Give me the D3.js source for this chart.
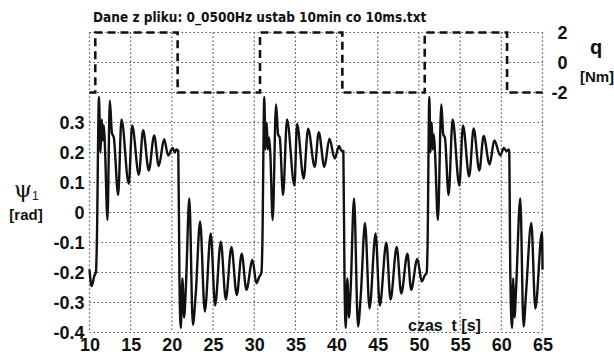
<!DOCTYPE html>
<html>
<head>
<meta charset="utf-8">
<script src="https://cdn.jsdelivr.net/npm/d3@7"></script>
<style>
  html, body { margin: 0; padding: 0; background: #fff; }
  svg { display: block; }
  .tick text { font-family: 'Liberation Sans', Arial, sans-serif; font-weight: bold; fill: #111; }
</style>
</head>
<body>
<div id="chart"></div>
<script>
// --- data ---
const xTicks = [10, 15, 20, 25, 30, 35, 40, 45, 50, 55, 60, 65];
const psiTicks = [-0.4, -0.3, -0.2, -0.1, 0, 0.1, 0.2, 0.3];
const qTicks = [-2, 0, 2];

// torque q [Nm], square wave (level holds from each switch time)
const qSwitchT = [10, 10.7, 20.7, 30.7, 40.7, 50.7, 60.7, 65];
const qLevel   = [-2, 2, -2, 2, -2, 2, -2, -2];

// psi_1 [rad] samples (peaks, troughs, transitions)
const psiT0 = [10, 10.25, 10.6, 10.78];
const psiV0 = [-0.19, -0.245, -0.21, -0.2];

const psiT1 = [10.88, 11.15, 11.33, 11.5, 11.62, 11.75, 11.9, 12.18, 12.47, 12.72, 12.95, 13.48, 13.88, 14.77, 15.18, 15.99, 16.51, 17.2, 17.85, 18.41, 19.06, 19.55, 20.1, 20.35, 20.55, 20.78];
const psiV1 = [-0.12, 0.385, 0.2, 0.31, 0.24, 0.29, 0.2, -0.025, 0.373, 0.265, 0.25, 0.058, 0.31, 0.096, 0.29, 0.126, 0.274, 0.14, 0.257, 0.155, 0.244, 0.19, 0.215, 0.2, 0.21, 0.205];

const psiT2 = [20.92, 21.08, 21.28, 21.48, 21.7, 22.12, 22.55, 22.9, 23.43, 24.0, 24.72, 25.25, 25.94, 26.55, 27.23, 27.88, 28.48, 29.05, 29.78, 30.27, 30.6, 30.88];
const psiV2 = [-0.22, -0.385, -0.22, -0.35, -0.25, 0.047, -0.374, -0.27, -0.03, -0.33, -0.07, -0.31, -0.097, -0.29, -0.115, -0.275, -0.137, -0.258, -0.158, -0.236, -0.215, -0.2];

const psiT3 = [30.98, 31.22, 31.36, 31.52, 31.64, 31.8, 31.95, 32.24, 32.65, 32.9, 33.1, 33.5, 33.98, 34.88, 35.2, 36.0, 36.54, 37.35, 37.83, 38.52, 39.13, 39.77, 40.3, 40.6, 40.82];
const psiV3 = [-0.12, 0.385, 0.21, 0.3, 0.21, 0.25, 0.2, -0.025, 0.36, 0.26, 0.25, 0.058, 0.31, 0.09, 0.295, 0.113, 0.279, 0.152, 0.268, 0.152, 0.246, 0.18, 0.222, 0.205, 0.205];

const psiT4 = [40.96, 41.1, 41.3, 41.5, 41.7, 42.12, 42.6, 42.95, 43.45, 44.0, 44.73, 45.25, 46.04, 46.55, 47.3, 47.85, 48.6, 49.05, 49.8, 50.35, 50.7, 50.94];
const psiV4 = [-0.22, -0.385, -0.22, -0.35, -0.26, 0.047, -0.38, -0.27, -0.035, -0.32, -0.07, -0.31, -0.1, -0.29, -0.115, -0.27, -0.137, -0.258, -0.155, -0.23, -0.21, -0.2];

const psiT5 = [51.04, 51.26, 51.4, 51.55, 51.66, 51.8, 51.95, 52.3, 52.72, 52.95, 53.15, 53.6, 54.09, 54.9, 55.35, 56.1, 56.64, 57.33, 57.85, 58.58, 59.15, 59.88, 60.3, 60.6, 60.95];
const psiV5 = [-0.12, 0.385, 0.2, 0.3, 0.21, 0.26, 0.2, -0.025, 0.36, 0.26, 0.25, 0.058, 0.31, 0.09, 0.29, 0.12, 0.28, 0.14, 0.255, 0.16, 0.24, 0.19, 0.215, 0.205, 0.21];

const psiT6 = [61.1, 61.3, 61.45, 61.6, 61.8, 62.3, 62.7, 63.0, 63.64, 64.13, 64.94, 65];
const psiV6 = [-0.22, -0.385, -0.22, -0.35, -0.25, 0.047, -0.38, -0.27, -0.035, -0.32, -0.065, -0.19];

const psiT = [].concat(psiT0, psiT1, psiT2, psiT3, psiT4, psiT5, psiT6);
const psiV = [].concat(psiV0, psiV1, psiV2, psiV3, psiV4, psiV5, psiV6);

const titleText = 'Dane z pliku: 0_0500Hz ustab 10min co 10ms.txt';

// --- drawing ---
const width = 614, height = 358;
const plot = { left: 89.5, right: 542.5, qTop: 32.5, qBottom: 92.5, psiBottom: 332.5 };

const svg = d3.select('#chart').append('svg')
  .attr('width', width)
  .attr('height', height);

const x = d3.scaleLinear().domain([10, 65]).range([plot.left, plot.right]);
const yQ = d3.scaleLinear().domain([-2, 2]).range([plot.qBottom, plot.qTop]);
const yPsi = d3.scaleLinear().domain([-0.4, 0.4]).range([plot.psiBottom, plot.qBottom]);

const fmt = d => d === 0 ? '0' : d.toFixed(1);

// dotted grid lines, one group per panel and direction
const gridLayer = svg.append('g');

function gridX(y0, y1) {
  gridLayer.append('g')
    .selectAll('line')
    .data(xTicks)
    .join('line')
    .attr('x1', d => x(d)).attr('x2', d => x(d))
    .attr('y1', y0).attr('y2', y1)
    .attr('stroke', '#555')
    .attr('stroke-width', 1.2)
    .attr('stroke-dasharray', '1.5,2.5');
}
function gridY(scale, ticks) {
  gridLayer.append('g')
    .selectAll('line')
    .data(ticks)
    .join('line')
    .attr('x1', plot.left).attr('x2', plot.right)
    .attr('y1', d => scale(d)).attr('y2', d => scale(d))
    .attr('stroke', '#555')
    .attr('stroke-width', 1.2)
    .attr('stroke-dasharray', '1.5,2.5');
}
gridX(plot.qTop, plot.qBottom);
gridY(yQ, qTicks);
gridX(plot.qBottom, plot.psiBottom);
gridY(yPsi, psiTicks.concat([0.4]));

// tick labels
const xAxis = svg.append('g')
  .attr('transform', `translate(0,${plot.psiBottom})`)
  .call(d3.axisBottom(x).tickValues(xTicks).tickSize(0).tickPadding(6));
xAxis.select('.domain').remove();
xAxis.selectAll('text').style('font-size', '18px');

const yAxis = svg.append('g')
  .attr('transform', `translate(${plot.left},0)`)
  .call(d3.axisLeft(yPsi).tickValues(psiTicks).tickSize(0).tickPadding(5).tickFormat(fmt));
yAxis.select('.domain').remove();
yAxis.selectAll('text').style('font-size', '18px');

const qAxis = svg.append('g')
  .attr('transform', `translate(${plot.right},0)`)
  .call(d3.axisRight(yQ).tickValues(qTicks).tickSize(0).tickPadding(0).tickFormat(d => String(d)));
qAxis.select('.domain').remove();
qAxis.selectAll('text')
  .attr('x', 25)
  .attr('text-anchor', 'end')
  .style('font-size', '18px');

// torque square wave
const qData = qSwitchT.map((t, i) => ({ t, v: qLevel[i] }));
svg.append('path')
  .datum(qData)
  .attr('fill', 'none')
  .attr('stroke', '#111')
  .attr('stroke-width', 2.6)
  .attr('stroke-dasharray', '8,5')
  .attr('d', d3.line().x(d => x(d.t)).y(d => yQ(d.v)).curve(d3.curveStepAfter));

// psi_1 signal
const psiData = psiT.map((t, i) => ({ t, v: psiV[i] }));
svg.append('path')
  .datum(psiData)
  .attr('fill', 'none')
  .attr('stroke', '#111')
  .attr('stroke-width', 2.4)
  .attr('stroke-linejoin', 'round')
  .attr('d', d3.line().x(d => x(d.t)).y(d => yPsi(d.v)).curve(d3.curveMonotoneX));

// labels
svg.append('text')
  .attr('x', 93).attr('y', 22)
  .style('font-family', "'Liberation Sans Narrow', 'DejaVu Sans Condensed', sans-serif")
  .style('font-weight', 'bold')
  .style('font-size', '13.5px')
  .attr('fill', '#111')
  .text(titleText);

const psiLabel = svg.append('text')
  .attr('x', 14).attr('y', 197)
  .attr('fill', '#111')
  .style('font-family', "'DejaVu Serif', serif");
psiLabel.append('tspan').style('font-size', '23px').text('ψ');
psiLabel.append('tspan').attr('dy', 3).style('font-size', '12px')
  .style('font-family', "'Liberation Sans', sans-serif").text('1');

svg.append('text')
  .attr('x', 26).attr('y', 220)
  .attr('text-anchor', 'middle')
  .attr('fill', '#111')
  .style('font-family', "'Liberation Sans', sans-serif")
  .style('font-weight', 'bold')
  .style('font-size', '15px')
  .text('[rad]');

svg.append('text')
  .attr('x', 408).attr('y', 331)
  .attr('fill', '#111')
  .attr('xml:space', 'preserve')
  .style('white-space', 'pre')
  .style('font-family', "'Liberation Sans', sans-serif")
  .style('font-weight', 'bold')
  .style('font-size', '16px')
  .text('czas  t [s]');

svg.append('text')
  .attr('x', 596).attr('y', 54)
  .attr('text-anchor', 'middle')
  .attr('fill', '#111')
  .style('font-family', "'Liberation Sans', sans-serif")
  .style('font-weight', 'bold')
  .style('font-size', '20px')
  .text('q');

svg.append('text')
  .attr('x', 597).attr('y', 82)
  .attr('text-anchor', 'middle')
  .attr('fill', '#111')
  .style('font-family', "'Liberation Sans', sans-serif")
  .style('font-weight', 'bold')
  .style('font-size', '15px')
  .text('[Nm]');
</script>
</body>
</html>
